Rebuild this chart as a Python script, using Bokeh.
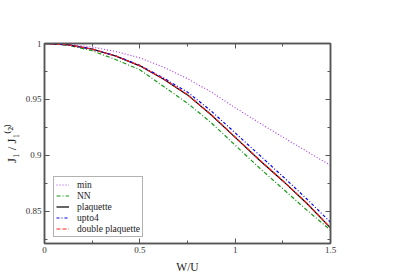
from bokeh.plotting import figure
from bokeh.models import (Legend, LegendItem, FixedTicker, LinearAxis, Range1d)
from bokeh.embed import file_html
from bokeh.resources import INLINE

# ---- data ----
w_over_u = [0.0, 0.125, 0.25, 0.375, 0.5, 0.625, 0.75, 0.875, 1.0, 1.125, 1.25, 1.375, 1.5]
ratio_min = [1.0, 0.9992, 0.9968, 0.9928, 0.9872, 0.9788, 0.9685, 0.9565, 0.9425, 0.9292, 0.9162, 0.9035, 0.891]
ratio_nn = [1.0, 0.9985, 0.9935, 0.9855, 0.9765, 0.9615, 0.9465, 0.929, 0.909, 0.889, 0.870, 0.851, 0.833]
ratio_plaquette = [1.0, 0.9988, 0.995, 0.9887, 0.980, 0.968, 0.954, 0.936, 0.916, 0.896, 0.877, 0.857, 0.835]
ratio_upto4 = [1.0, 0.9988, 0.995, 0.9888, 0.9805, 0.969, 0.9565, 0.9395, 0.920, 0.9005, 0.881, 0.861, 0.840]
ratio_double = [1.0, 0.9988, 0.995, 0.9887, 0.9802, 0.9683, 0.9543, 0.9363, 0.9163, 0.8963, 0.8773, 0.8573, 0.8352]

series_names = ["min", "NN", "plaquette", "upto4", "double plaquette"]
x_ticks = [0, 0.5, 1, 1.5]
x_tick_labels = ["0", "0.5", "1", "1.5"]
x_minor = [0.25, 0.75, 1.25]
y_ticks = [0.85, 0.9, 0.95, 1.0]
y_tick_labels = ["0.85", "0.9", "0.95", "1"]
y_minor = [0.825, 0.875, 0.925, 0.975]
x_title = "W/U"
y_title = "J\u2081 / J\u2081\u207d\u00b2\u207e"

FONT = "Liberation Serif"
AX = "#555555"

p = figure(width=395, height=279, x_range=Range1d(0, 1.5), y_range=Range1d(0.821, 1.0),
           output_backend="svg", toolbar_location=None,
           min_border_left=42, min_border_right=65, min_border_top=43, min_border_bottom=36)
p.xgrid.visible = False
p.ygrid.visible = False
p.outline_line_color = AX
p.outline_line_width = 1.5
p.background_fill_color = "white"
p.border_fill_color = "white"

def style_axis(ax, ticks, minor, overrides, show_labels):
    ax.ticker = FixedTicker(ticks=ticks, minor_ticks=minor)
    ax.major_label_overrides = {t: l for t, l in zip(ticks, overrides)}
    ax.axis_line_color = AX
    ax.axis_line_width = 1.5
    ax.major_tick_line_color = AX
    ax.minor_tick_line_color = AX
    ax.major_tick_in = 5
    ax.major_tick_out = 0
    ax.minor_tick_in = 3
    ax.minor_tick_out = 0
    ax.major_label_text_font = FONT
    ax.major_label_text_font_size = "9px"
    ax.major_label_text_color = "#333333"
    ax.major_label_standoff = 3
    ax.axis_label_text_font = FONT
    ax.axis_label_text_font_style = "normal"
    ax.axis_label_text_color = "#222222"
    if not show_labels:
        ax.major_label_text_alpha = 0
        ax.major_label_text_font_size = "1px"
        ax.major_label_standoff = 0

style_axis(p.xaxis[0], x_ticks, x_minor, x_tick_labels, True)
style_axis(p.yaxis[0], y_ticks, y_minor, y_tick_labels, True)
p.xaxis[0].axis_label = x_title
p.xaxis[0].axis_label_text_font_size = "11.5px"
p.xaxis[0].axis_label_standoff = 5
p.yaxis[0].axis_label = y_title
p.yaxis[0].axis_label_text_font_size = "13px"
p.yaxis[0].axis_label_standoff = 4

top_ax = LinearAxis()
right_ax = LinearAxis()
style_axis(top_ax, x_ticks, x_minor, x_tick_labels, False)
style_axis(right_ax, y_ticks, y_minor, y_tick_labels, False)
p.add_layout(top_ax, "above")
p.add_layout(right_ax, "right")

r_min = p.line(w_over_u, ratio_min, line_color="#b040f0", line_width=1.2, line_dash="1 2")
r_nn = p.line(w_over_u, ratio_nn, line_color="#1a9a1a", line_width=1.2, line_dash="4 2 1 2")
r_pl = p.line(w_over_u, ratio_plaquette, line_color="black", line_width=1.2)
r_up = p.line(w_over_u, ratio_upto4, line_color="#0000ff", line_width=1.2, line_dash="3 2 1 2")
r_db = p.line(w_over_u, ratio_double, line_color="#ff2020", line_width=1.2, line_dash="4 2")

legend = Legend(items=[LegendItem(label=n, renderers=[r]) for n, r in
                       zip(series_names, [r_min, r_nn, r_pl, r_up, r_db])],
                location=(9, 6), label_text_font=FONT, label_text_font_size="9.5px",
                label_text_color="#222222", glyph_width=13, glyph_height=11, label_height=11,
                spacing=0, padding=2, margin=0, label_standoff=8,
                border_line_color="#666666", border_line_width=1,
                background_fill_color="white", background_fill_alpha=1)
p.add_layout(legend, "center")

open("out.html", "w").write(file_html(p, INLINE))
